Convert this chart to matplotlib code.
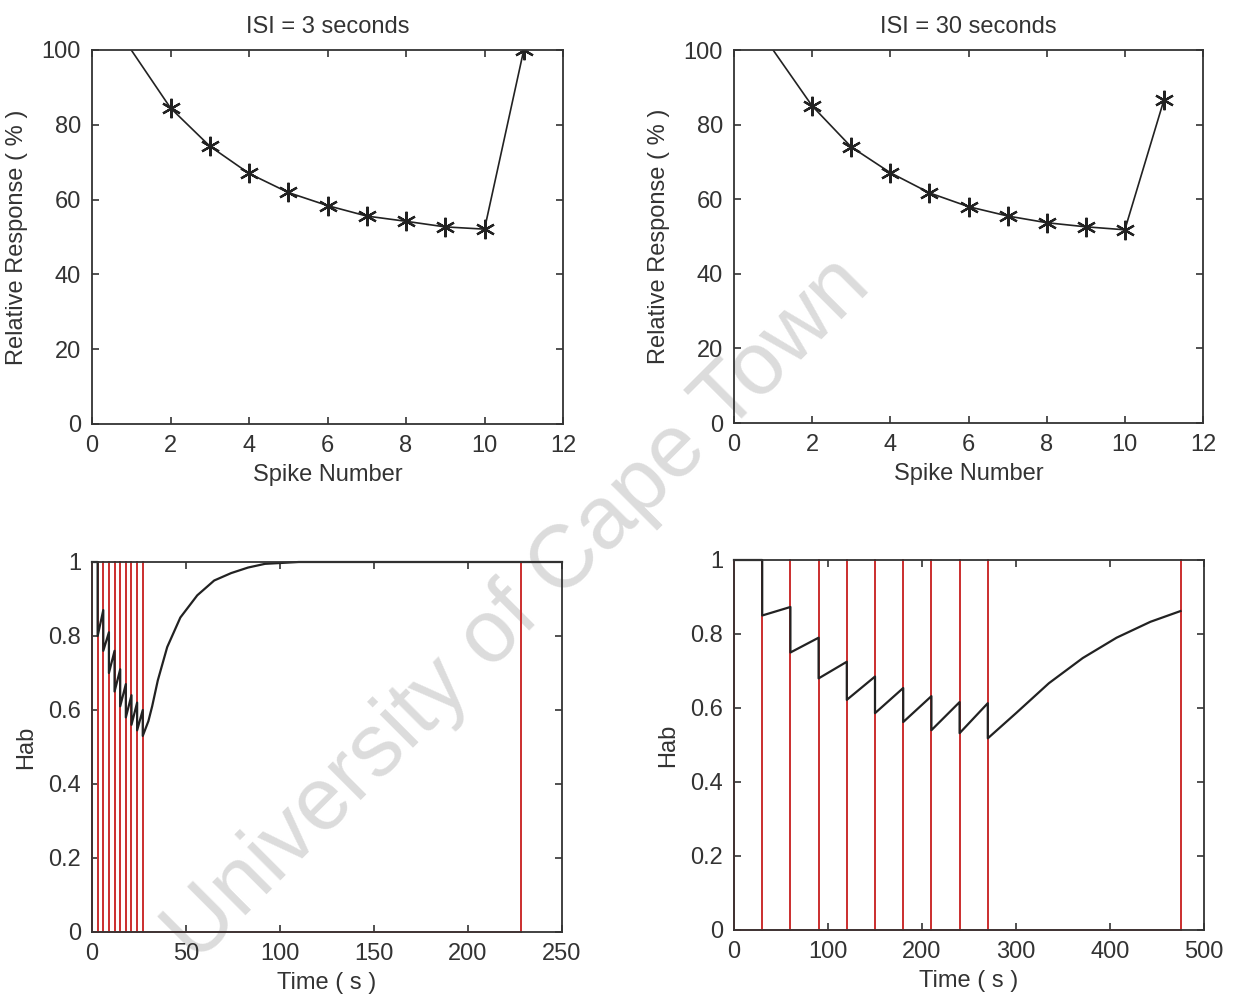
import numpy as np
import matplotlib
matplotlib.use('Agg')
import matplotlib.pyplot as plt

# relative response per spike (top panels)
spike_num = [1, 2, 3, 4, 5, 6, 7, 8, 9, 10, 11]
resp_isi3 = [100, 84.5, 74.3, 67.0, 61.9, 58.4, 55.6, 54.2, 52.7, 52.1, 100]
resp_isi30 = [100, 85.0, 74.0, 67.1, 61.7, 58.0, 55.5, 53.7, 52.6, 51.8, 86.6]

# spike times (s)
spikes_isi3 = [0, 3, 6, 9, 12, 15, 18, 21, 24, 27, 228]
spikes_isi30 = [0, 30, 60, 90, 120, 150, 180, 210, 240, 270, 475]

# habituation variable
hab3_t = [0, 3, 3, 6, 6, 9, 9, 12, 12, 15, 15, 18, 18, 21, 21, 24, 24, 27, 27,
          30, 32, 35, 40, 47, 56, 65, 74, 83, 92, 110, 250]
hab3_v = [1.0, 1.0, 0.80, 0.87, 0.76, 0.81, 0.70, 0.76, 0.65, 0.71, 0.61, 0.67,
          0.58, 0.64, 0.56, 0.62, 0.545, 0.60, 0.53, 0.57, 0.61, 0.68, 0.77,
          0.85, 0.91, 0.95, 0.97, 0.985, 0.995, 1.0, 1.0]
hab30_t = [0, 30, 30, 60, 60, 90, 90, 120, 120, 150, 150, 180, 180, 210, 210,
           240, 240, 270, 270, 300, 335, 371, 407, 443, 475]
hab30_v = [1.0, 1.0, 0.85, 0.873, 0.75, 0.79, 0.68, 0.725, 0.622, 0.685, 0.586,
           0.654, 0.562, 0.632, 0.54, 0.616, 0.532, 0.613, 0.518, 0.586, 0.667,
           0.735, 0.79, 0.833, 0.862]

plt.rcParams['font.family'] = ['Liberation Sans', 'DejaVu Sans']
fs = 17
edge = '#333333'
txt = '#333333'

W, H = 1235, 1001
fig = plt.figure(figsize=(W / 100, H / 100), dpi=100)


def box(l, t, r, b):
    return [l / W, 1 - b / H, (r - l) / W, (b - t) / H]


def style(ax):
    ax.patch.set_alpha(0)
    for s in ax.spines.values():
        s.set_color(edge)
        s.set_linewidth(1.3)
    ax.tick_params(direction='in', length=5, width=1.2, color=edge,
                   top=True, right=True, labelsize=fs, pad=8, labelcolor=txt)


def spike_train(ts):
    x, y = [], []
    for t in ts:
        x += [t, t, t]
        y += [0, 1, 0]
    return x, y


# top panels
for pos, resp, title in [((92, 50, 563, 424), resp_isi3, 'ISI = 3 seconds'),
                         ((734, 50, 1203, 423), resp_isi30, 'ISI = 30 seconds')]:
    ax = fig.add_axes(box(*pos))
    style(ax)
    ax.plot(spike_num, resp, color='#222222', lw=1.2, marker=(6, 2, 0), ms=14,
            mew=1.6, mec='#222222', markevery=list(range(1, 11)))
    ax.set_xlim(0, 12)
    ax.set_ylim(0, 100)
    ax.set_xticks(np.arange(0, 13, 2))
    ax.set_yticks(np.arange(0, 101, 20))
    ax.set_xlabel('Spike Number', labelpad=5, color=txt, fontsize=fs)
    ax.set_ylabel('Relative Response ( % )', labelpad=10, color=txt, fontsize=fs)
    ax.set_title(title, fontsize=fs, pad=12, color=txt)

# bottom panels
for pos, spikes, ht, hv, xmax, xstep in [
        ((92, 562, 562, 932), spikes_isi3, hab3_t, hab3_v, 250, 50),
        ((734, 560, 1204, 930), spikes_isi30, hab30_t, hab30_v, 500, 100)]:
    ax = fig.add_axes(box(*pos))
    style(ax)
    sx, sy = spike_train(spikes)
    ax.plot(sx, sy, color='#cc3333', lw=1.2, clip_on=False)
    ax.plot(ht, hv, color='#222222', lw=1.6, clip_on=False)
    ax.set_xlim(0, xmax)
    ax.set_ylim(0, 1)
    ax.set_xticks(np.arange(0, xmax + 1, xstep))
    ax.set_yticks([0, 0.2, 0.4, 0.6, 0.8, 1])
    ax.set_yticklabels(['0', '0.2', '0.4', '0.6', '0.8', '1'])
    ax.set_xlabel('Time ( s )', labelpad=5, color=txt, fontsize=fs)
    ax.set_ylabel('Hab', labelpad=8, color=txt, fontsize=fs)

# watermark
fig.text(0.42, 0.39, 'University of Cape Town', rotation=45, fontsize=64,
         color='#dcdcdc', ha='center', va='center', zorder=-1)

fig.savefig('out.png', dpi=100, facecolor='white')
